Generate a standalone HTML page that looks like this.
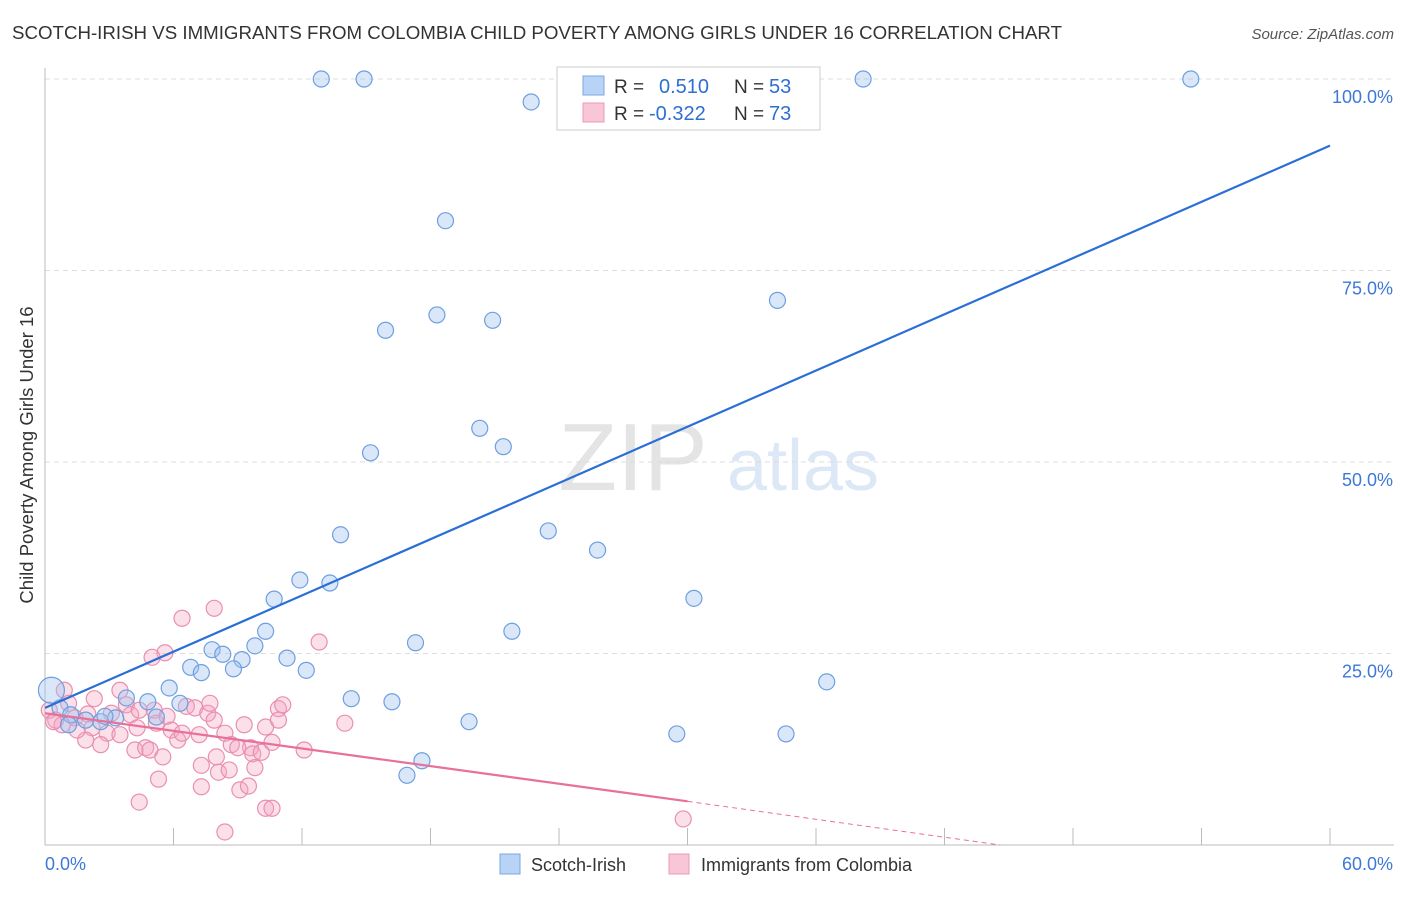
<!DOCTYPE html>
<html><head><meta charset="utf-8">
<style>
body{margin:0;background:#fff;font-family:"Liberation Sans",sans-serif;}
svg text{font-family:"Liberation Sans",sans-serif;}
</style></head>
<body>
<svg id="chart" width="1406" height="892" xmlns="http://www.w3.org/2000/svg">
<text x="12" y="39" font-size="18" fill="#333" textLength="1050" lengthAdjust="spacingAndGlyphs">SCOTCH-IRISH VS IMMIGRANTS FROM COLOMBIA CHILD POVERTY AMONG GIRLS UNDER 16 CORRELATION CHART</text>
<text x="1394" y="39" font-size="15" fill="#555" font-style="italic" text-anchor="end">Source: ZipAtlas.com</text>
<text x="633" y="490" font-size="96" fill="#e4e4e4" font-family="Liberation Serif" text-anchor="middle">ZIP</text>
<text x="803" y="490" font-size="72" fill="#dde8f6" text-anchor="middle">atlas</text>
<text transform="translate(33,455) rotate(-90)" font-size="18.5" fill="#333" text-anchor="middle">Child Poverty Among Girls Under 16</text>
<g id="grid"></g><g id="axes"></g><g id="marks"></g>
<g>
<rect x="557" y="67" width="263" height="63" fill="#fff" stroke="#ccc"/>
<rect x="583" y="76" width="21" height="19" fill="#b8d3f5" stroke="#7aa7e2"/>
<rect x="583" y="103" width="21" height="19" fill="#f8c6d6" stroke="#eb9ab6"/>
<text x="614" y="93" font-size="19" fill="#333">R = </text><text x="659" y="93" font-size="20" fill="#2e6fd3">0.510</text>
<text x="734" y="93" font-size="19" fill="#333">N = </text><text x="769" y="93" font-size="20" fill="#2e6fd3">53</text>
<text x="614" y="120" font-size="19" fill="#333">R = </text><text x="649" y="120" font-size="20" fill="#2e6fd3">-0.322</text>
<text x="734" y="120" font-size="19" fill="#333">N = </text><text x="769" y="120" font-size="20" fill="#2e6fd3">73</text>
</g>
<g>
<rect x="500" y="854" width="20" height="20" fill="#b8d3f5" stroke="#7aa7e2"/>
<text x="531" y="871" font-size="18" fill="#333">Scotch-Irish</text>
<rect x="669" y="854" width="20" height="20" fill="#f8c6d6" stroke="#eb9ab6"/>
<text x="701" y="871" font-size="18" fill="#333">Immigrants from Colombia</text>
</g>
</svg>
<script>
const xTicks=[0,6,12,18,24,30,36,42,48,54,60];
const yTicks=[25,50,75,100];
const yTickLabels=["25.0%","50.0%","75.0%","100.0%"];
const xEndLabels=["0.0%","60.0%"];
const blueX=[12.9,14.9,22.7,38.2,53.5,18.7,34.2,15.9,18.3,20.9,15.2,20.3,21.4,23.5,25.8,13.8,11.9,13.3,10.7,30.3,10.3,21.8,17.3,9.8,7.8,8.3,9.2,11.3,6.8,7.3,8.8,12.2,36.5,5.8,14.3,16.2,3.8,4.8,6.3,5.2,19.8,29.5,34.6,17.6,16.9,0.7,1.2,1.9,2.6,3.3,1.1,2.8,0.3];
const blueY=[100,100,97.0,100,100,81.5,71.1,67.2,69.2,68.5,51.2,54.4,52.0,41.0,38.5,40.5,34.6,34.2,32.1,32.2,27.9,27.9,26.4,26.0,25.5,24.9,24.2,24.4,23.2,22.5,23.0,22.8,21.3,20.5,19.1,18.7,19.2,18.7,18.5,16.7,16.1,14.5,14.5,11.0,9.1,17.9,17.0,16.3,16.1,16.6,15.7,16.8,20.2];
const pinkX=[6.4,7.9,12.8,5.6,5.0,3.5,2.3,0.9,1.1,0.2,0.5,1.4,2.0,2.2,2.9,2.6,1.9,3.8,4.0,4.4,4.3,5.1,5.2,5.7,5.9,6.2,6.4,6.6,7.0,7.6,7.7,8.4,8.7,9.6,9.0,9.7,10.1,10.6,10.3,10.9,11.1,12.1,14.0,4.2,4.7,4.9,5.5,7.3,8.0,8.1,8.6,9.8,5.3,7.3,9.1,9.5,4.4,10.3,10.6,8.4,29.8,3.1,0.8,0.4,1.5,3.5,7.2,10.9,9.3,7.9];
const pinkY=[29.6,30.9,26.5,25.1,24.5,20.2,19.1,20.2,18.5,17.6,16.3,16.6,17.1,15.3,14.6,13.1,13.7,18.3,17.0,17.6,15.3,17.6,15.9,16.8,15.0,13.7,14.6,18.1,17.9,17.2,18.5,14.6,13.1,12.7,12.7,11.9,12.1,13.4,15.4,17.8,18.3,12.4,15.9,12.4,12.7,12.4,11.5,10.4,11.5,9.5,9.8,10.1,8.6,7.6,7.2,7.7,5.6,4.8,4.8,1.7,3.4,17.2,15.7,16.1,15.0,14.4,14.4,16.3,15.7,16.3];
const blueLine=[[0,17.9],[60,91.3]];
const pinkLine=[[0,17.2],[30,5.7]];
const pinkDash=[[30,5.7],[44.6,0]];

const NS="http://www.w3.org/2000/svg";
const X0=45,X1=1330,Y0=845,Y100=79;
const sx=v=>X0+(X1-X0)*v/60;
const sy=v=>Y0-(Y0-Y100)*v/100;
function mk(tag,attrs,parent){const e=document.createElementNS(NS,tag);for(const k in attrs)e.setAttribute(k,attrs[k]);parent.appendChild(e);return e;}
const grid=document.getElementById('grid'),axes=document.getElementById('axes'),marks=document.getElementById('marks');
yTicks.forEach((t,i)=>{
  const l=mk('line',{x1:X0,x2:1394,y1:sy(t),y2:sy(t),stroke:'#ddd','stroke-dasharray':'5,4'},grid);
  
  
  const tx=mk('text',{x:1393,y:sy(t)+24,'font-size':18,fill:'#3d78d8','text-anchor':'end'},axes);
  tx.textContent=yTickLabels[i];
  
  
});
const ax=mk('line',{x1:X0,x2:1394,y1:Y0,y2:Y0,stroke:'#bbb'},axes);


const ay=mk('line',{x1:X0,x2:X0,y1:68,y2:Y0,stroke:'#bbb'},axes);


xTicks.forEach(t=>{
  const l=mk('line',{x1:sx(t),x2:sx(t),y1:Y0,y2:Y0-17,stroke:'#bbb'},axes);
  
  
});
const xl0=mk('text',{x:45,y:870,'font-size':18,fill:'#3d78d8'},axes);xl0.textContent=xEndLabels[0];


const xl1=mk('text',{x:1393,y:870,'font-size':18,fill:'#3d78d8','text-anchor':'end'},axes);xl1.textContent=xEndLabels[1];



pinkX.forEach((x,i)=>{
  const c=mk('circle',{cx:sx(x),cy:sy(pinkY[i]),r:8,fill:'rgba(244,165,194,0.35)',stroke:'#e98fb0','stroke-width':1.2},marks);
  
  
});
blueX.forEach((x,i)=>{
  const r=i===blueX.length-1?13:8;
  const c=mk('circle',{cx:sx(x),cy:sy(blueY[i]),r:r,fill:'rgba(160,196,240,0.4)',stroke:'#6e9fe0','stroke-width':1.2},marks);
  
  
});
const bl=mk('line',{x1:sx(blueLine[0][0]),y1:sy(blueLine[0][1]),x2:sx(blueLine[1][0]),y2:sy(blueLine[1][1]),stroke:'#2a6fd6','stroke-width':2.2},marks);


const pl=mk('line',{x1:sx(pinkLine[0][0]),y1:sy(pinkLine[0][1]),x2:sx(pinkLine[1][0]),y2:sy(pinkLine[1][1]),stroke:'#e8709a','stroke-width':2.2},marks);


const pd=mk('line',{x1:sx(pinkDash[0][0]),y1:sy(pinkDash[0][1]),x2:sx(pinkDash[1][0]),y2:sy(pinkDash[1][1]),stroke:'#e8709a','stroke-width':1,'stroke-dasharray':'5,4'},marks);


</script>
</body></html>
